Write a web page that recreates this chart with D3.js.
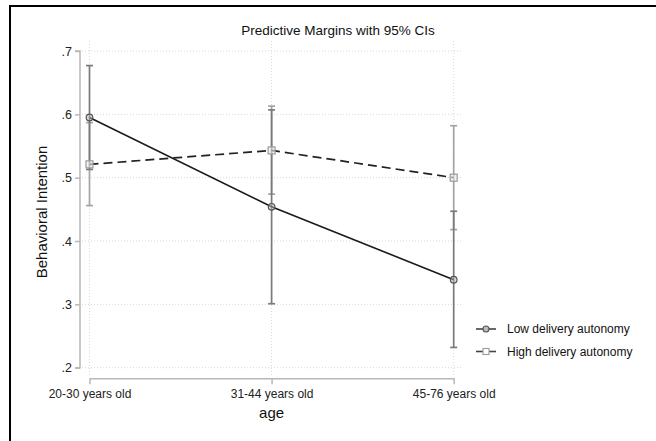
<!DOCTYPE html>
<html>
<head>
<meta charset="utf-8">
<script src="https://cdn.jsdelivr.net/npm/d3@7"></script>
<style>
  body { margin: 0; background: #fff; }
  svg { display: block; font-family: "Liberation Sans", Arial, sans-serif; }
</style>
</head>
<body>
<svg id="chart" width="656" height="441"></svg>
<script>
// categories and tick labels
const ages = ["20-30 years old", "31-44 years old", "45-76 years old"];
const yTicks = [0.2, 0.3, 0.4, 0.5, 0.6, 0.7];

// Low delivery autonomy: margins and 95% CIs
const lowMargin = [0.595, 0.454, 0.339];
const lowLower = [0.513, 0.301, 0.232];
const lowUpper = [0.677, 0.607, 0.447];

// High delivery autonomy: margins and 95% CIs
const highMargin = [0.521, 0.543, 0.500];
const highLower = [0.456, 0.474, 0.418];
const highUpper = [0.587, 0.613, 0.582];

const seriesNames = ["Low delivery autonomy", "High delivery autonomy"];

const svg = d3.select("#chart");

// frame around the graph
svg.append("rect")
    .attr("x", 10).attr("y", 6)
    .attr("width", 660).attr("height", 450)
    .attr("fill", "none")
    .attr("stroke", "#000")
    .attr("stroke-width", 2);

const x = d3.scalePoint()
    .domain(ages)
    .range([89.5, 453.7]);

const y = d3.scaleLinear()
    .domain([0.2, 0.7])
    .range([367.7, 51]);

const plotLeft = 80, plotRight = 463;

// grid lines
svg.append("g")
    .selectAll("line")
    .data(yTicks)
    .join("line")
    .attr("x1", plotLeft + 2).attr("x2", plotRight)
    .attr("y1", d => y(d)).attr("y2", d => y(d))
    .attr("stroke", "#d8d8d8")
    .attr("stroke-width", 1)
    .attr("stroke-dasharray", "1,2");

svg.append("g")
    .selectAll("line")
    .data(ages)
    .join("line")
    .attr("x1", d => x(d)).attr("x2", d => x(d))
    .attr("y1", 41).attr("y2", 376)
    .attr("stroke", "#d8d8d8")
    .attr("stroke-width", 1)
    .attr("stroke-dasharray", "1,2");

// y axis
const yAxis = d3.axisLeft(y)
    .tickValues(yTicks)
    .tickSize(5)
    .tickPadding(3)
    .tickFormat(d => d3.format(".1f")(d).replace(/^0/, ""));

const gy = svg.append("g")
    .attr("transform", `translate(${plotLeft},0)`)
    .call(yAxis);
gy.select(".domain").attr("stroke", "#b8b8b8").attr("stroke-width", 1.5)
    .attr("d", `M-5,${y(0.2)}H0V${y(0.7)}H-5`);
gy.selectAll(".tick line").attr("stroke", "#b8b8b8").attr("stroke-width", 1.5);
gy.selectAll(".tick text").attr("fill", "#222").attr("font-size", 12.5)
    .attr("font-family", "Liberation Sans, Arial, sans-serif");

// x axis
const xAxis = d3.axisBottom(x)
    .tickSize(6)
    .tickPadding(5)
    .tickSizeOuter(0);

const gx = svg.append("g")
    .attr("transform", "translate(0,378.3)")
    .call(xAxis);
gx.select(".domain").attr("stroke", "#b8b8b8").attr("stroke-width", 1.5);
gx.selectAll(".tick line").attr("stroke", "#b8b8b8").attr("stroke-width", 1.5);
gx.selectAll(".tick text").attr("fill", "#222").attr("font-size", 12)
    .attr("font-family", "Liberation Sans, Arial, sans-serif");

// titles
svg.append("text")
    .attr("x", 338).attr("y", 35)
    .attr("text-anchor", "middle")
    .attr("font-size", 13.5)
    .attr("fill", "#111")
    .text("Predictive Margins with 95% CIs");

svg.append("text")
    .attr("transform", "translate(47,212) rotate(-90)")
    .attr("text-anchor", "middle")
    .attr("font-size", 15)
    .attr("fill", "#111")
    .text("Behavioral Intention");

svg.append("text")
    .attr("x", x(ages[1])).attr("y", 418)
    .attr("text-anchor", "middle")
    .attr("font-size", 15)
    .attr("fill", "#111")
    .text("age");

// confidence intervals
function drawCI(lower, upper, color) {
    const g = svg.append("g").attr("stroke", color).attr("stroke-width", 1.7);
    ages.forEach((a, i) => {
        g.append("line")
            .attr("x1", x(a)).attr("x2", x(a))
            .attr("y1", y(lower[i])).attr("y2", y(upper[i]));
        [lower[i], upper[i]].forEach(v => {
            g.append("line")
                .attr("x1", x(a) - 3.5).attr("x2", x(a) + 3.5)
                .attr("y1", y(v)).attr("y2", y(v));
        });
    });
}
drawCI(highLower, highUpper, "#a4a4a4");
drawCI(lowLower, lowUpper, "#7a7a7a");

const line = d3.line()
    .x((d, i) => x(ages[i]))
    .y(d => y(d));

svg.append("path")
    .datum(highMargin)
    .attr("d", line)
    .attr("fill", "none")
    .attr("stroke", "#222")
    .attr("stroke-width", 1.7)
    .attr("stroke-dasharray", "9,5");

svg.append("path")
    .datum(lowMargin)
    .attr("d", line)
    .attr("fill", "none")
    .attr("stroke", "#1a1a1a")
    .attr("stroke-width", 1.6);

// markers
svg.append("g")
    .selectAll("rect")
    .data(highMargin)
    .join("rect")
    .attr("x", (d, i) => x(ages[i]) - 3.5)
    .attr("y", d => y(d) - 3.5)
    .attr("width", 7).attr("height", 7)
    .attr("fill", "#eee")
    .attr("fill-opacity", 0.6)
    .attr("stroke", "#9a9a9a")
    .attr("stroke-width", 1.2);

svg.append("g")
    .selectAll("circle")
    .data(lowMargin)
    .join("circle")
    .attr("cx", (d, i) => x(ages[i]))
    .attr("cy", d => y(d))
    .attr("r", 3.3)
    .attr("fill", "#bbb")
    .attr("fill-opacity", 0.5)
    .attr("stroke", "#555")
    .attr("stroke-width", 1.2);

// legend
const legend = svg.append("g").attr("transform", "translate(476,0)");
const rowsY = [329, 351.5];
seriesNames.forEach((name, i) => {
    const row = legend.append("g").attr("transform", `translate(0,${rowsY[i]})`);
    row.append("line")
        .attr("x1", 0).attr("x2", 20)
        .attr("stroke", "#444").attr("stroke-width", 1.6);
    if (i === 0) {
        row.append("circle")
            .attr("cx", 10).attr("r", 3)
            .attr("fill", "#bbb").attr("stroke", "#555").attr("stroke-width", 1.1);
    } else {
        row.append("rect")
            .attr("x", 7).attr("y", -3).attr("width", 6).attr("height", 6)
            .attr("fill", "#fff").attr("stroke", "#9a9a9a").attr("stroke-width", 1.1);
    }
    row.append("text")
        .attr("x", 31).attr("dy", "0.35em")
        .attr("font-size", 12)
        .attr("fill", "#111")
        .text(name);
});
</script>
</body>
</html>
